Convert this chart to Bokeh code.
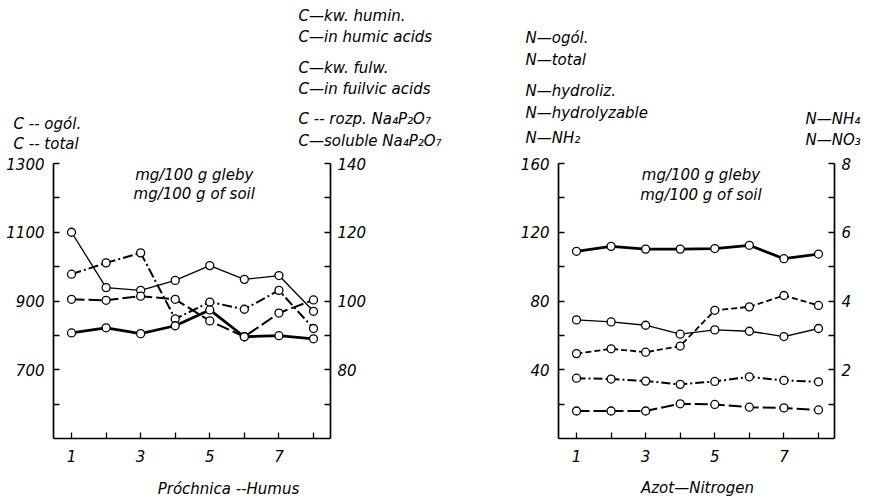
from bokeh.plotting import figure
from bokeh.models import Range1d, LinearAxis, FixedTicker, Label
from bokeh.layouts import row, column
from bokeh.embed import file_html
from bokeh.resources import INLINE

# ---------------- data ----------------
samples = [1, 2, 3, 4, 5, 6, 7, 8]
x_major = [1, 3, 5, 7]
x_minor = [2, 4, 6, 8]

# Left panel: humus carbon (mg/100 g soil)
c_total = [1100, 939, 931, 960, 1003, 963, 974, 870]            # left axis
c_humic = [100.5, 100.2, 101.4, 100.5, 94.2, 89.6, 96.5, 100.3]  # right axis
c_fulvic = [107.8, 111.1, 114.0, 94.8, 99.7, 97.6, 103.1, 92.0]  # right axis
c_soluble = [90.7, 92.2, 90.5, 92.8, 97.4, 89.6, 89.9, 89.0]     # right axis

# Right panel: nitrogen (mg/100 g soil)
n_total = [108.9, 111.8, 110.2, 110.2, 110.5, 112.4, 104.6, 107.3]  # left axis
n_hydro = [69.0, 67.8, 65.9, 60.7, 63.2, 62.4, 59.3, 64.0]          # left axis
n_nh2 = [35.1, 34.6, 33.4, 31.5, 33.2, 35.9, 33.8, 33.0]            # left axis
n_no3 = [2.47, 2.61, 2.51, 2.69, 3.73, 3.83, 4.16, 3.87]            # right axis
n_nh4 = [0.80, 0.80, 0.80, 1.01, 0.99, 0.91, 0.89, 0.83]            # right axis

left_major = [700, 900, 1100, 1300]
left_minor = [600, 800, 1000, 1200]
left_r_major = [80, 100, 120, 140]
left_r_minor = [70, 90, 110, 130]
right_major = [40, 80, 120, 160]
right_minor = [20, 60, 100, 140]
right_r_major = [2, 4, 6, 8]
right_r_minor = [1, 3, 5, 7]

FONT = "DejaVu Sans"
FS = "15px"

HEAD_H = 152      # header strip height
FOOT_H = 30       # footer strip height
MID_H = 502 - HEAD_H - FOOT_H


def style_axis(ax, standoff):
    ax.axis_line_width = 1.7
    ax.axis_line_color = "black"
    ax.major_tick_in = 6
    ax.major_tick_out = 0
    ax.minor_tick_in = 6
    ax.minor_tick_out = 0
    ax.major_tick_line_width = 1.3
    ax.minor_tick_line_width = 1.3
    ax.major_label_text_font = FONT
    ax.major_label_text_font_style = "italic"
    ax.major_label_text_font_size = FS
    ax.major_label_text_color = "black"
    ax.major_label_standoff = standoff


def make_fig(width, L, R, T, B, xr, yr, yr2, ticks):
    p = figure(width=width, height=MID_H, x_range=Range1d(*xr), y_range=Range1d(*yr),
               output_backend="svg", toolbar_location=None,
               min_border_left=L, min_border_right=width - R,
               min_border_top=T - HEAD_H, min_border_bottom=HEAD_H + MID_H - B)
    p.extra_y_ranges = {"r": Range1d(*yr2)}
    p.outline_line_color = None
    p.xgrid.visible = False
    p.ygrid.visible = False
    p.background_fill_color = "white"
    p.border_fill_color = "white"
    p.xaxis.ticker = FixedTicker(ticks=x_major, minor_ticks=x_minor)
    style_axis(p.xaxis[0], 11)
    p.yaxis.ticker = FixedTicker(ticks=ticks[0], minor_ticks=ticks[1])
    style_axis(p.yaxis[0], 9)
    ax2 = LinearAxis(y_range_name="r", ticker=FixedTicker(ticks=ticks[2], minor_ticks=ticks[3]))
    style_axis(ax2, 7)
    p.add_layout(ax2, "right")
    return p


def text_strip(height):
    # plain text canvas: one data unit = one pixel, y measured from the top
    s = figure(width=875, height=height, x_range=Range1d(0, 875), y_range=Range1d(height, 0),
               output_backend="svg", toolbar_location=None, x_axis_type=None, y_axis_type=None,
               min_border_left=0, min_border_right=0, min_border_top=0, min_border_bottom=0)
    s.outline_line_color = None
    s.xgrid.visible = False
    s.ygrid.visible = False
    s.background_fill_color = "white"
    s.border_fill_color = "white"
    return s


def add_text(p, x, y, text, align="left"):
    p.add_layout(Label(x=x, y=y, text=text, text_font=FONT, text_font_style="italic",
                       text_font_size=FS, text_align=align, text_baseline="middle",
                       text_color="black"))


def series(p, ys, width, dash, rng=None):
    kw = {} if rng is None else {"y_range_name": rng}
    p.line(samples, ys, line_color="black", line_width=width, line_dash=dash, **kw)
    p.scatter(samples, ys, marker="circle", size=8, fill_color="white",
              line_color="black", line_width=1.3, **kw)


# ---------------- header ----------------
head = text_strip(HEAD_H)
add_text(head, 13, 123, "C -- ogól.")
add_text(head, 13, 143, "C -- total")
add_text(head, 298, 15, "C—kw. humin.")
add_text(head, 298, 36, "C—in humic acids")
add_text(head, 298, 67, "C—kw. fulw.")
add_text(head, 298, 88, "C—in fuilvic acids")
add_text(head, 298, 118, "C -- rozp. Na₄P₂O₇")
add_text(head, 298, 140, "C—soluble Na₄P₂O₇")
add_text(head, 525, 37, "N—ogól.")
add_text(head, 525, 59, "N—total")
add_text(head, 525, 90, "N—hydroliz.")
add_text(head, 525, 112, "N—hydrolyzable")
add_text(head, 525, 137, "N—NH₂")
add_text(head, 805, 118, "N—NH₄")
add_text(head, 805, 139, "N—NO₃")

# ---------------- left panel ----------------
W1 = 440
L1, R1, T1, B1 = 53, 330, 163, 442
xr1 = (1 - 18 / 34.57, 8 + 17 / 34.57)
yr1 = (500, 1300)
p1 = make_fig(W1, L1, R1, T1, B1, xr1, yr1, (60, 140),
              (left_major, left_minor, left_r_major, left_r_minor))
series(p1, c_total, 1.3, "solid")
series(p1, c_humic, 2.0, "13 4", "r")
series(p1, c_fulvic, 2.0, "10 3 2 3", "r")
series(p1, c_soluble, 2.8, "solid", "r")
add_text(p1, 4.55, 1266, "mg/100 g gleby", "center")
add_text(p1, 4.55, 1211, "mg/100 g of soil", "center")

# ---------------- right panel ----------------
OFF = 440
W2 = 875 - OFF
L2, R2, T2, B2 = 558 - OFF, 834 - OFF, 162, 438
xr2 = (1 - 18 / 34.57, 8 + 16 / 34.57)
yr2 = (0, 160)
p2 = make_fig(W2, L2, R2, T2, B2, xr2, yr2, (0, 8),
              (right_major, right_minor, right_r_major, right_r_minor))
series(p2, n_total, 2.8, "solid")
series(p2, n_hydro, 1.3, "solid")
series(p2, n_no3, 1.8, "6 3", "r")
series(p2, n_nh2, 2.0, "9 3 2 3")
series(p2, n_nh4, 2.0, "13 4", "r")
add_text(p2, 4.6, 153.5, "mg/100 g gleby", "center")
add_text(p2, 4.6, 141.5, "mg/100 g of soil", "center")

# ---------------- footer ----------------
foot = text_strip(FOOT_H)
add_text(foot, 228, 16, "Próchnica --Humus", "center")
add_text(foot, 697, 15, "Azot—Nitrogen", "center")

layout = column(head, row(p1, p2), foot)
open("out.html", "w").write(file_html(layout, INLINE))
